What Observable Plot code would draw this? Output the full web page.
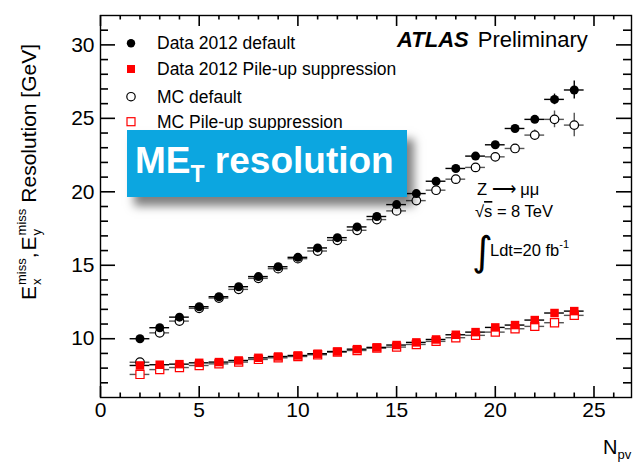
<!DOCTYPE html>
<html><head><meta charset="utf-8">
<script src="https://cdn.jsdelivr.net/npm/d3@7"></script>
<script src="https://cdn.jsdelivr.net/npm/@observablehq/plot@0.6"></script>
<style>
body{margin:0;background:#fff;font-family:"Liberation Sans",Arial,Helvetica,sans-serif;}
#wrap{position:relative;width:635px;height:462px;overflow:hidden;}
#badge{position:absolute;left:127px;top:130px;width:280px;height:67px;background:#0ca6e0;box-shadow:7px 9px 9px rgba(0,0,0,0.5);}
#badge svg{display:block;}
</style>
</head><body>
<div id="wrap"><div id="chart"></div>
<div id="badge"><svg width="280" height="67"><text x="8" y="43" fill="#fff" font-weight="bold" font-size="37" font-family="Liberation Sans, Arial, sans-serif">ME<tspan font-size="23" dy="9">T</tspan><tspan dy="-9"> resolution</tspan></text></svg></div>
</div>
<script>
// ---- data ----
const npv = [2,3,4,5,6,7,8,9,10,11,12,13,14,15,16,17,18,19,20,21,22,23,24];
const dataDefault = [10.0,10.75,11.47,12.18,12.86,13.54,14.23,14.9,15.54,16.18,16.88,17.61,18.32,19.13,19.88,20.72,21.59,22.43,23.2,24.31,24.93,26.29,26.93];
const dataDefaultErr = [0.05,0.05,0.05,0.05,0.05,0.05,0.05,0.05,0.05,0.05,0.05,0.05,0.05,0.06,0.07,0.08,0.1,0.12,0.15,0.2,0.25,0.36,0.62];
const mcDefault = [8.4,10.4,11.2,12.07,12.77,13.36,14.11,14.77,15.45,15.97,16.7,17.38,18.11,18.7,19.4,20.11,20.86,21.66,22.38,22.95,23.86,24.93,24.54];
const mcDefaultErr = [0.05,0.05,0.05,0.05,0.05,0.05,0.05,0.05,0.05,0.05,0.05,0.05,0.05,0.06,0.07,0.08,0.1,0.15,0.2,0.25,0.34,0.57,0.8];
const dataPU = [8.18,8.23,8.27,8.36,8.41,8.52,8.70,8.79,8.86,8.98,9.13,9.29,9.41,9.57,9.75,9.95,10.27,10.45,10.77,10.93,11.27,11.75,11.88];
const dataPUErr = [0.05,0.05,0.05,0.05,0.05,0.05,0.05,0.05,0.05,0.05,0.05,0.05,0.05,0.05,0.05,0.05,0.05,0.05,0.08,0.1,0.15,0.15,0.25];
const mcPU = [7.57,7.9,8.04,8.18,8.29,8.41,8.59,8.7,8.79,8.91,9.09,9.2,9.36,9.43,9.61,9.82,10.07,10.23,10.45,10.68,10.84,11.09,11.59];
const mcPUErr = [0.05,0.05,0.05,0.05,0.05,0.05,0.05,0.05,0.05,0.05,0.05,0.05,0.05,0.05,0.05,0.05,0.05,0.05,0.08,0.1,0.15,0.2,0.3];
const xMajor = [0,5,10,15,20,25];
const xMinor = [1,2,3,4,6,7,8,9,11,12,13,14,16,17,18,19,21,22,23,24,26];
const yMajor = [10,15,20,25,30];
const yMinor = [7,8,9,11,12,13,14,16,17,18,19,21,22,23,24,26,27,28,29,31];
const legendLabels = ["Data 2012 default","Data 2012 Pile-up suppression","MC default","MC Pile-up suppression"];

// ---- layout ----
const W = 635, H = 462, mL = 100, mR = 4, mT = 15, mB = 65;
const FW = W - mL - mR, FH = H - mT - mB;
const X0 = 0, X1 = 26.9, Y0 = 6, Y1 = 32;
const kx = FW / (X1 - X0), ky = FH / (Y1 - Y0); // px per unit
const font = "Liberation Sans, Arial, Helvetica, sans-serif";

const rows = (vals, errs) => npv.map((x, i) => ({x, y: vals[i], e: errs[i]}));
const dD = rows(dataDefault, dataDefaultErr);
const mD = rows(mcDefault, mcDefaultErr);
const dP = rows(dataPU, dataPUErr);
const mP = rows(mcPU, mcPUErr);

const bars = (d, color) => [
  Plot.ruleY(d, {y: "y", x1: r => r.x - 0.5, x2: r => r.x + 0.5, stroke: color, strokeWidth: 1.4}),
  Plot.ruleX(d, {x: "x", y1: r => r.y - r.e, y2: r => r.y + r.e, stroke: color, strokeWidth: 1.4})
];
const tk = {stroke: "black", strokeWidth: 1.6};

const chart = Plot.plot({
  width: W, height: H,
  marginLeft: mL, marginRight: mR, marginTop: mT, marginBottom: mB,
  style: {fontFamily: font, fontSize: "21px", background: "transparent", color: "black"},
  x: {domain: [X0, X1]},
  y: {domain: [Y0, Y1]},
  marks: [
    Plot.axisX({ticks: xMajor, tickSize: 0, tickPadding: 5, tickFormat: d => d, label: null, fontSize: 21}),
    Plot.axisY({ticks: yMajor, tickSize: 0, tickPadding: 6, tickFormat: d => d, label: null, fontSize: 21}),
    // inward frame ticks
    Plot.ruleX(xMajor, {x: d => d, y1: Y0, y2: Y0 + 11 / ky, ...tk}),
    Plot.ruleX(xMinor, {x: d => d, y1: Y0, y2: Y0 + 4.5 / ky, ...tk}),
    Plot.ruleX(xMajor, {x: d => d, y1: Y1, y2: Y1 - 11 / ky, ...tk}),
    Plot.ruleX(xMinor, {x: d => d, y1: Y1, y2: Y1 - 4.5 / ky, ...tk}),
    Plot.ruleY(yMajor, {y: d => d, x1: X0, x2: X0 + 15 / kx, ...tk}),
    Plot.ruleY(yMinor, {y: d => d, x1: X0, x2: X0 + 8 / kx, ...tk}),
    Plot.ruleY(yMajor, {y: d => d, x1: X1, x2: X1 - 15 / kx, ...tk}),
    Plot.ruleY(yMinor, {y: d => d, x1: X1, x2: X1 - 8 / kx, ...tk}),
    ...bars(mD, "#555"),
    ...bars(mP, "#555"),
    ...bars(dD, "black"),
    ...bars(dP, "black"),
    Plot.dot(mD, {x: "x", y: "y", r: 4.3, fill: "white", stroke: "black", strokeWidth: 1.2}),
    Plot.dot(mP, {x: "x", y: "y", r: 4.6, symbol: "square", fill: "white", stroke: "#ff0000", strokeWidth: 1.2}),
    Plot.dot(dD, {x: "x", y: "y", r: 4.5, fill: "black"}),
    Plot.dot(dP, {x: "x", y: "y", r: 4.8, symbol: "square", fill: "#ff0000"}),
    Plot.frame({stroke: "black", strokeWidth: 1.4})
  ]
});
document.getElementById("chart").appendChild(chart);

const svg = d3.select(chart);
const add = svg.append("g").attr("font-family", font).attr("fill", "black").attr("text-anchor", "start");

// legend
const legY = [43.3, 69, 96.7, 121.7];
add.append("circle").attr("cx", 131).attr("cy", legY[0]).attr("r", 4.2).attr("fill", "black");
add.append("rect").attr("x", 127).attr("y", legY[1] - 4).attr("width", 8).attr("height", 8).attr("fill", "#ff0000");
add.append("circle").attr("cx", 131).attr("cy", legY[2]).attr("r", 4.2).attr("fill", "white").attr("stroke", "black").attr("stroke-width", 1.2);
add.append("rect").attr("x", 127).attr("y", legY[3] - 4).attr("width", 8).attr("height", 8).attr("fill", "white").attr("stroke", "#ff0000").attr("stroke-width", 1.2);
legendLabels.forEach((t, i) => add.append("text").attr("x", 157).attr("y", legY[i] + 6).attr("font-size", 17.5).text(t));

// ATLAS Preliminary
const at = add.append("text").attr("x", 397).attr("y", 47).attr("font-size", 22);
at.append("tspan").attr("font-weight", "bold").attr("font-style", "italic").text("ATLAS");
at.append("tspan").attr("dx", 9).text("Preliminary");

// annotations
add.append("text").attr("x", 477).attr("y", 195).attr("font-size", 16.5).text("Z ⟶ μμ");
const rs = add.append("text").attr("x", 475).attr("y", 217).attr("font-size", 16.5);
rs.append("tspan").text("√");
rs.append("tspan").attr("text-decoration", "overline").text("s");
rs.append("tspan").text(" = 8 TeV");
add.append("text").attr("x", 472).attr("y", 265).attr("font-size", 40).attr("font-family", "DejaVu Sans").text("∫");
const ld = add.append("text").attr("x", 490).attr("y", 256).attr("font-size", 16.5);
ld.append("tspan").text("Ldt=20 fb");
ld.append("tspan").attr("font-size", 11).attr("dy", -8).text("-1");

// x label N_pv
const nl = add.append("text").attr("x", 603).attr("y", 454).attr("font-size", 20);
nl.append("tspan").text("N");
nl.append("tspan").attr("font-size", 13).attr("dy", 5).text("pv");

// y label
const g = add.append("g").attr("transform", "translate(36,300) rotate(-90)");
let cx = 0;
function big(t, gap) {
  cx += gap || 0;
  const e = g.append("text").attr("x", cx).attr("y", 0).attr("font-size", 21).text(t);
  cx += e.node().getComputedTextLength();
}
function supsub(sup, sub) {
  const a = g.append("text").attr("x", cx + 1).attr("y", -10).attr("font-size", 13).text(sup);
  const b = g.append("text").attr("x", cx + 1).attr("y", 5).attr("font-size", 13).text(sub);
  cx += Math.max(a.node().getComputedTextLength(), b.node().getComputedTextLength()) + 1;
}
big("E"); supsub("miss", "x"); big(","); big("E", 2); supsub("miss", "y"); big("Resolution [GeV]", 6);
</script>
</body></html>
